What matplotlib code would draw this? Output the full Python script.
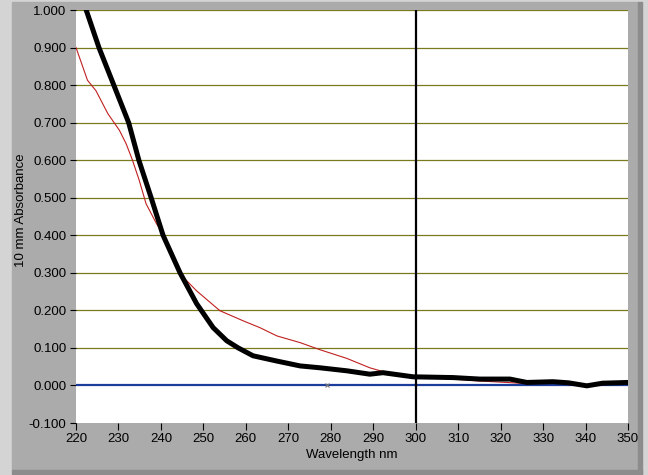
import matplotlib.pyplot as plt
from matplotlib.patches import Rectangle

# black spectrum (thick)
black_nm = [220, 222.4, 225.4, 228.9, 232.4, 234.8, 237.7, 240.5, 244.5, 248.4, 252.3,
            255.5, 258.2, 261.7, 267.3, 272.8, 277.5, 283.8, 289.2, 292.3, 299.4,
            308.8, 315.1, 322.2, 326.2, 332.3, 336.0, 340.3, 344.0, 350]
black_abs = [1.08, 1.0, 0.9, 0.8, 0.7, 0.6, 0.5, 0.4, 0.3, 0.218, 0.154,
             0.119, 0.1, 0.079, 0.065, 0.052, 0.047, 0.039, 0.030, 0.034, 0.023,
             0.021, 0.017, 0.017, 0.008, 0.010, 0.007, -0.001, 0.006, 0.008]

# red spectrum (thin)
red_nm = [220, 222.7, 224.7, 227.5, 230.2, 231.8, 233.3, 234.9, 236.5, 239.0, 241.0, 244.5,
          248.4, 253.9, 259.4, 263.3, 267.3, 272.8, 277.5, 283.8, 289.2, 293.2,
          300.0, 308.8, 315.0, 321.4, 326.0, 332.0, 340.0, 350]
red_abs = [0.9, 0.813, 0.785, 0.724, 0.68, 0.644, 0.6, 0.546, 0.484, 0.43, 0.395, 0.297,
           0.252, 0.199, 0.172, 0.154, 0.132, 0.114, 0.095, 0.072, 0.047, 0.034,
           0.022, 0.017, 0.012, 0.008, 0.005, 0.008, 0.0, 0.007]

x_ticks = list(range(220, 351, 10))
y_ticks = [-0.1, 0.0, 0.1, 0.2, 0.3, 0.4, 0.5, 0.6, 0.7, 0.8, 0.9, 1.0]
cursor_nm = 300
marker_nm = 279

plt.rcParams['font.family'] = ['Liberation Sans', 'DejaVu Sans']

fig = plt.figure(figsize=(6.48, 4.75), dpi=100, facecolor='#d4d4d4')
W, H = 648, 475

# window-style panel and shading
fig.patches.append(Rectangle((12 / W, 1 - 470 / H), 626 / W, 468 / H,
                             transform=fig.transFigure, color='#ababab', zorder=-10))
fig.patches.append(Rectangle((638 / W, 1 - 474 / H), 4 / W, 472 / H,
                             transform=fig.transFigure, color='#8c8c8c', zorder=-10))
fig.patches.append(Rectangle((12 / W, 1 - 474 / H), 630 / W, 4 / H,
                             transform=fig.transFigure, color='#8c8c8c', zorder=-10))

ax = fig.add_axes([76 / W, 1 - 423 / H, 552 / W, 413 / H])
ax.set_zorder(5)
ax.set_facecolor('white')

for y in y_ticks[2:]:
    ax.axhline(y, color='#7a7a1e', lw=0.9, zorder=1)

ax.axhline(0, color='#1c3c9c', lw=1.6, zorder=2)
ax.axvline(cursor_nm, color='black', lw=1.6, zorder=2)

ax.plot(red_nm, red_abs, color='#c02020', lw=0.8, zorder=3)
ax.plot(black_nm, black_abs, color='black', lw=3.6, zorder=4)
ax.plot([marker_nm], [0], marker='x', color='#777777', ms=3.5, mew=0.8, zorder=5)

ax.set_xlim(220, 350)
ax.set_ylim(-0.1, 1.0)
ax.set_xticks(x_ticks)
ax.set_yticks(y_ticks)
ax.set_yticklabels([f'{v:.3f}' for v in y_ticks])

for s in ax.spines.values():
    s.set_visible(False)
ax.tick_params(axis='x', direction='out', length=5, width=0.8, pad=2, labelsize=9.5)
ax.tick_params(axis='y', direction='out', length=4, width=0.8, pad=3, labelsize=9.5)
ax.set_xlabel('Wavelength nm', fontsize=9.5, labelpad=3)
ax.set_ylabel('10 mm Absorbance', fontsize=9.5)
ax.yaxis.set_label_coords(-0.088, 0.516)

fig.savefig('out.png', dpi=100, facecolor=fig.get_facecolor())
